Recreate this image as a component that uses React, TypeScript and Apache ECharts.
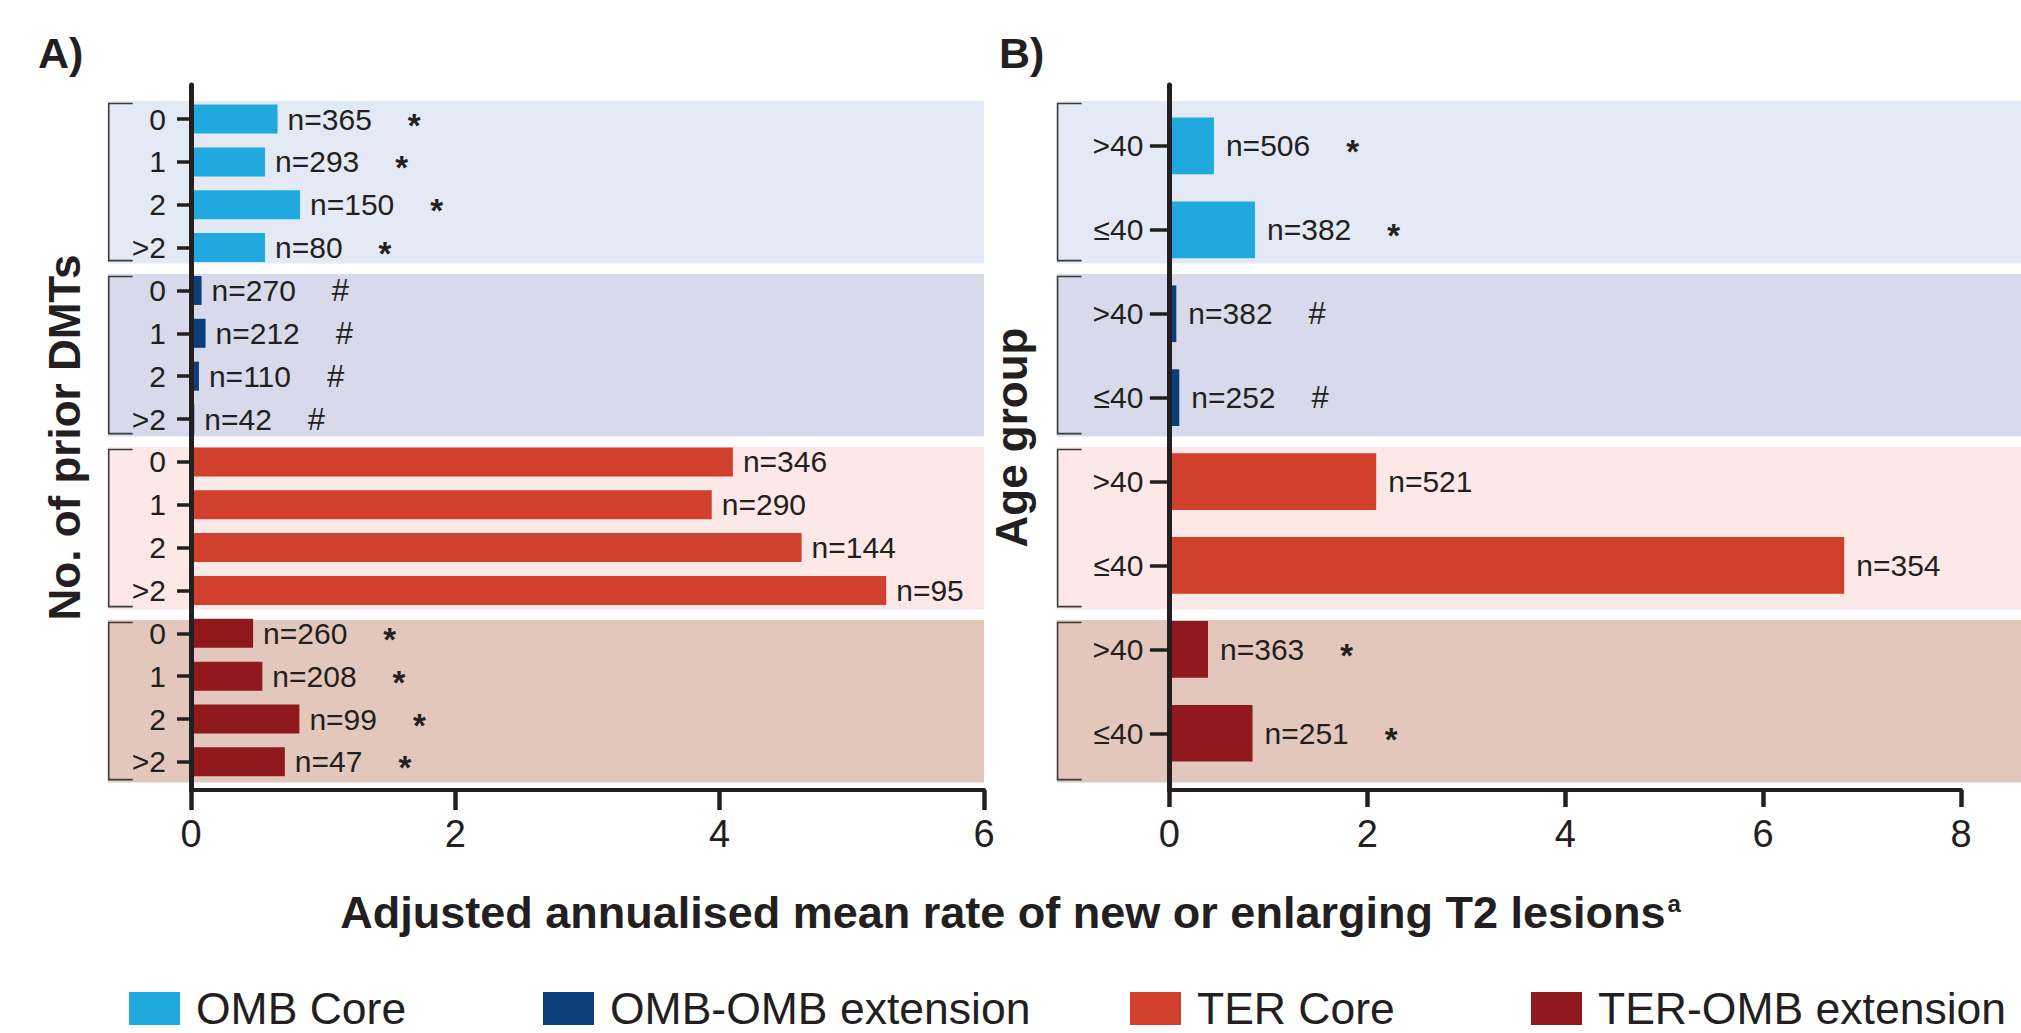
import React, { useEffect, useRef } from 'react';
import * as echarts from 'echarts';

// ---------- data ----------
const treatments = ['OMB Core', 'OMB-OMB extension', 'TER Core', 'TER-OMB extension'];
const treatmentColors = ['#1FA9DF', '#0B3F7B', '#D1402C', '#8F191D'];
const bandColors = ['#E4EAF5', '#D9D9EC', '#FCE8E6', '#E4C7BC'];

// Panel A: number of prior DMTs
const priorDmtLevels = ['0', '1', '2', '>2'];
const priorRateOmbCore = [0.655, 0.56, 0.825, 0.56];
const priorRateOmbExt = [0.08, 0.11, 0.06, 0.025];
const priorRateTerCore = [4.1, 3.94, 4.62, 5.26];
const priorRateTerExt = [0.47, 0.54, 0.82, 0.71];
const priorNOmbCore = [365, 293, 150, 80];
const priorNOmbExt = [270, 212, 110, 42];
const priorNTerCore = [346, 290, 144, 95];
const priorNTerExt = [260, 208, 99, 47];
const priorMarkers = ['*', '#', '', '*'];

// Panel B: age group
const ageLevels = ['>40', '≤40'];
const ageRateOmbCore = [0.45, 0.865];
const ageRateOmbExt = [0.07, 0.1];
const ageRateTerCore = [2.09, 6.82];
const ageRateTerExt = [0.39, 0.84];
const ageNOmbCore = [506, 382];
const ageNOmbExt = [382, 252];
const ageNTerCore = [521, 354];
const ageNTerExt = [363, 251];
const ageMarkers = ['*', '#', '', '*'];

const xTitle = 'Adjusted annualised mean rate of new or enlarging T2 lesions';
const xTitleSup = 'a';

// ---------- layout / style ----------
const INK = '#231F20';
const FONT = '"Liberation Sans", Arial, Helvetica, sans-serif';
const FRAME_TOP = 85;
const FRAME_HEIGHT = 705;
// frame y axis in "group" units (one band per group)
const GROUP_PX = 173;
const GROUP_TOP_PX = 101;
const GROUP_MIN = -(GROUP_TOP_PX - FRAME_TOP) / GROUP_PX;
const GROUP_MAX = (FRAME_TOP + FRAME_HEIGHT - GROUP_TOP_PX) / GROUP_PX;
const BAND_SPAN = 0.94;
const legendLefts = [129, 543, 1130, 1531];

interface Row { key: string; label: string; t: number; rate: number; n: number; marker: string }

function buildRows(pi: number, levels: string[], rates: number[][], ns: number[][], markers: string[]): Row[] {
  const rows: Row[] = [];
  rates.forEach((arr, t) => {
    arr.forEach((v, i) => {
      rows.push({ key: `${pi}-${t}-${i}`, label: levels[i], t, rate: v, n: ns[t][i], marker: markers[t] });
    });
  });
  return rows;
}

const panels = [
  {
    rows: buildRows(0, priorDmtLevels,
      [priorRateOmbCore, priorRateOmbExt, priorRateTerCore, priorRateTerExt],
      [priorNOmbCore, priorNOmbExt, priorNTerCore, priorNTerExt], priorMarkers),
    xMax: 6,
    axisName: 'No. of prior DMTs',
    left: 191, width: 793,
    rowsTop: 97.6, rowsHeight: 685.7,
    barWidth: 29, tickLen: 14, labelMargin: 25, labelDistance: 10,
    bandX: [-0.63, 6], nameGap: 105, xTickLen: 20,
  },
  {
    rows: buildRows(1, ageLevels,
      [ageRateOmbCore, ageRateOmbExt, ageRateTerCore, ageRateTerExt],
      [ageNOmbCore, ageNOmbExt, ageNTerCore, ageNTerExt], ageMarkers),
    xMax: 8,
    axisName: 'Age group',
    left: 1169.4, width: 791.6,
    rowsTop: 104, rowsHeight: 671.2,
    barWidth: 56.7, tickLen: 19.5, labelMargin: 26, labelDistance: 12,
    bandX: [-1.14, 8.7], nameGap: 136, xTickLen: 17,
  },
];

function buildOption(): any {
  const grid: any[] = [];
  const xAxis: any[] = [];
  const yAxis: any[] = [];
  const series: any[] = [];

  panels.forEach((p, pi) => {
    const fi = pi * 2;
    const ri = pi * 2 + 1;
    const rows = p.rows;
    grid.push({ left: p.left, width: p.width, top: FRAME_TOP, height: FRAME_HEIGHT, containLabel: false, outerBoundsMode: 'none' });
    grid.push({ left: p.left, width: p.width, top: p.rowsTop, height: p.rowsHeight, containLabel: false, outerBoundsMode: 'none' });

    xAxis.push({
      gridIndex: fi, type: 'value', min: 0, max: p.xMax, interval: 2, z: 6,
      axisLine: { show: true, onZero: false, lineStyle: { color: INK, width: 4 } },
      axisTick: { show: true, length: p.xTickLen, lineStyle: { color: INK, width: 4.5 } },
      axisLabel: { show: true, fontSize: 38, color: INK, margin: 25, fontFamily: FONT },
      splitLine: { show: false },
    });
    xAxis.push({ gridIndex: ri, type: 'value', min: 0, max: p.xMax, show: false });

    yAxis.push({
      gridIndex: fi, type: 'value', inverse: true, min: GROUP_MIN, max: GROUP_MAX, z: 6,
      axisLine: { show: true, onZero: false, lineStyle: { color: INK, width: 5 } },
      axisTick: { show: false }, axisLabel: { show: false }, splitLine: { show: false },
      name: p.axisName, nameLocation: 'middle', nameGap: p.nameGap, nameRotate: 90, nameMoveOverlap: false,
      nameTextStyle: { fontSize: 44, fontWeight: 'bold', color: INK, fontFamily: FONT },
    });
    yAxis.push({
      gridIndex: ri, type: 'category', inverse: true, z: 6,
      data: rows.map((r) => r.key),
      axisLine: { show: false },
      axisTick: { show: true, alignWithLabel: true, interval: 0, length: p.tickLen, lineStyle: { color: INK, width: 3.5 } },
      axisLabel: {
        interval: 0, margin: p.labelMargin, fontSize: 30, color: INK, fontFamily: FONT,
        formatter: (_v: string, idx: number) => rows[idx].label,
      },
      splitLine: { show: false },
    });

    const bandX = p.bandX;
    series.push({
      type: 'custom', name: `bands-${pi}`, xAxisIndex: fi, yAxisIndex: fi, z: 1, silent: true, clip: false,
      data: bandColors.map((_c, g) => [0, g]),
      renderItem: (_params: any, api: any) => {
        const g = api.value(1);
        const p0 = api.coord([bandX[0], g]);
        const p1 = api.coord([bandX[1], g + BAND_SPAN]);
        const x0 = p0[0];
        const y0 = p0[1];
        const x1 = p1[0];
        const y1 = p1[1];
        const bx = x0 + 1;
        return {
          type: 'group',
          children: [
            { type: 'rect', shape: { x: x0, y: y0, width: x1 - x0, height: y1 - y0 }, style: { fill: bandColors[g] } },
            {
              type: 'polyline',
              shape: { points: [[bx + 24, y0 + 2.5], [bx, y0 + 2.5], [bx, y1 - 3], [bx + 24, y1 - 3]] },
              style: { stroke: '#3A3A3A', lineWidth: 1.6, fill: null },
            },
          ],
        };
      },
    });

    treatments.forEach((name, t) => {
      series.push({
        type: 'bar', name, xAxisIndex: ri, yAxisIndex: ri, z: 3,
        barWidth: p.barWidth, barGap: '-100%',
        data: rows.map((r) => (r.t === t ? r.rate : '-')),
        itemStyle: { color: treatmentColors[t], borderWidth: 0 },
        label: {
          show: true, position: 'right', distance: p.labelDistance,
          formatter: (prm: any) => {
            const r = rows[prm.dataIndex];
            let s = `{n|n=${r.n}}`;
            if (r.marker === '*') s += '{ast|*}';
            else if (r.marker === '#') s += '{hash|#}';
            return s;
          },
          rich: {
            n: { fontSize: 30, color: INK, fontFamily: FONT },
            ast: { fontSize: 33, fontWeight: 'bold', color: INK, fontFamily: FONT, padding: [12, 0, 0, 36] },
            hash: { fontSize: 31, color: INK, fontFamily: FONT, padding: [0, 0, 0, 36] },
          },
        },
      });
    });
  });

  return {
    animation: false,
    backgroundColor: '#FFFFFF',
    textStyle: { fontFamily: FONT },
    title: [
      { text: 'A)', left: 38, top: 31, padding: 0, textStyle: { fontSize: 43, fontWeight: 'bold', color: INK, fontFamily: FONT } },
      { text: 'B)', left: 999, top: 31, padding: 0, textStyle: { fontSize: 43, fontWeight: 'bold', color: INK, fontFamily: FONT } },
      {
        text: `{t|${xTitle}}{s|${xTitleSup}}`, left: 'center', top: 890, padding: 0,
        textStyle: {
          fontSize: 45, fontWeight: 'bold', color: INK, fontFamily: FONT,
          rich: {
            t: { fontSize: 45, fontWeight: 'bold', color: INK, fontFamily: FONT },
            s: { fontSize: 24, fontWeight: 'bold', color: INK, fontFamily: FONT, padding: [0, 0, 18, 2] },
          },
        },
      },
    ],
    legend: treatments.map((name, i) => ({
      data: [name], left: legendLefts[i], top: 986, padding: 0, orient: 'horizontal',
      itemWidth: 51, itemHeight: 33, icon: 'rect', selectedMode: false,
      textStyle: { fontSize: 44.5, color: INK, fontFamily: FONT, padding: [0, 0, 0, 11] },
    })),
    grid,
    xAxis,
    yAxis,
    series,
  };
}

export default function App() {
  const ref = useRef<HTMLDivElement>(null);
  useEffect(() => {
    if (!ref.current) return;
    const chart = echarts.init(ref.current, null, { renderer: 'svg' });
    chart.setOption(buildOption());
    return () => chart.dispose();
  }, []);
  return (
    <div
      ref={ref}
      style={{ position: 'fixed', left: 0, top: 0, width: 2021, height: 1033, background: '#FFFFFF' }}
    />
  );
}
